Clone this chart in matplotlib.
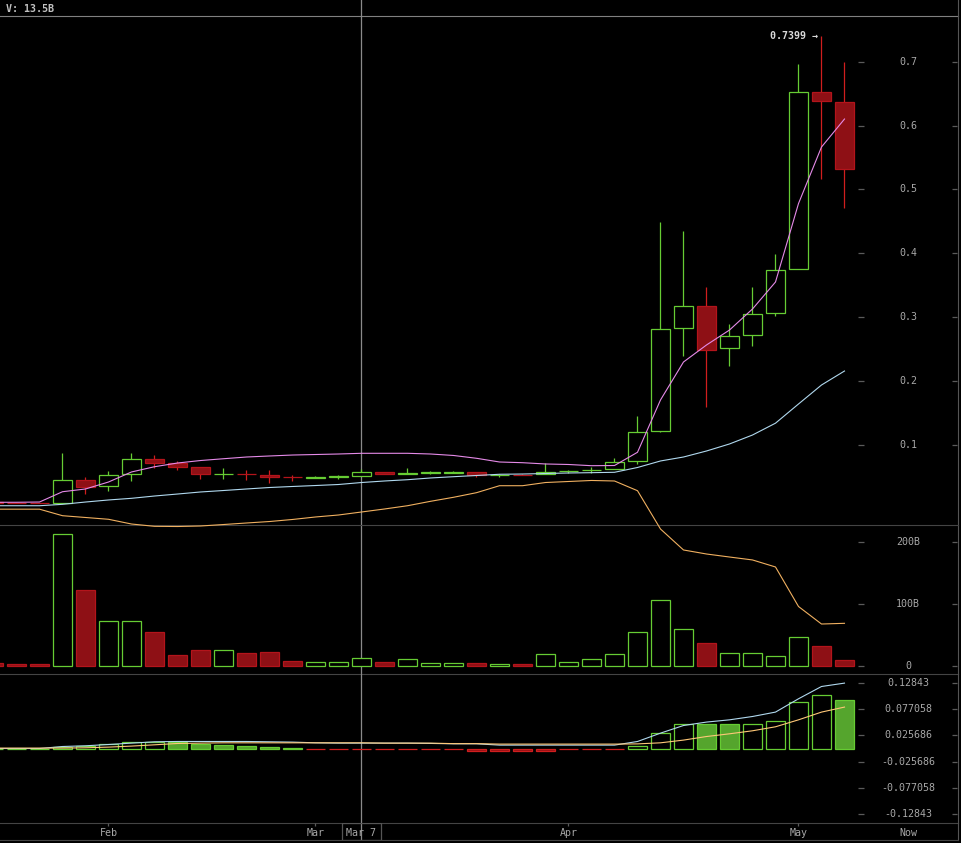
import numpy as np
import matplotlib.pyplot as plt
from matplotlib.patches import Rectangle

plt.rcParams['font.family'] = ['DejaVu Sans Mono', 'DejaVu Sans']

# 3-day candles, price in coin units
opens = [0.0112, 0.0100, 0.0100, 0.0094, 0.0452, 0.0358, 0.0546, 0.0780, 0.0722, 0.0655,
         0.0545, 0.0551, 0.0535, 0.0502, 0.0495, 0.0510, 0.0514, 0.0577, 0.0556, 0.0572,
         0.0572, 0.0577, 0.0528, 0.0540, 0.0545, 0.0590, 0.0606, 0.0624, 0.0749, 0.1223,
         0.2829, 0.3173, 0.2516, 0.2719, 0.3064, 0.3752, 0.6520, 0.6363]
closes = [0.0094, 0.0094, 0.0094, 0.0452, 0.0352, 0.0530, 0.0780, 0.0727, 0.0664, 0.0546,
          0.0550, 0.0546, 0.0508, 0.0497, 0.0500, 0.0515, 0.0577, 0.0555, 0.0561, 0.0577,
          0.0577, 0.0530, 0.0532, 0.0535, 0.0577, 0.0597, 0.0613, 0.0738, 0.1202, 0.2813,
          0.3173, 0.2494, 0.2704, 0.3048, 0.3736, 0.6520, 0.6379, 0.5325]
highs = [0.0115, 0.0100, 0.0100, 0.0879, 0.0503, 0.0597, 0.0879, 0.0847, 0.0749, 0.0655,
         0.0639, 0.0613, 0.0613, 0.0535, 0.0515, 0.0535, 0.0624, 0.0577, 0.0644, 0.0593,
         0.0600, 0.0577, 0.0545, 0.0545, 0.0718, 0.0618, 0.0664, 0.0796, 0.1457, 0.4491,
         0.4351, 0.3475, 0.2896, 0.3475, 0.3991, 0.6962, 0.7399, 0.6994]
lows = [0.0090, 0.0094, 0.0094, 0.0094, 0.0233, 0.0289, 0.0445, 0.0639, 0.0613, 0.0477,
        0.0477, 0.0457, 0.0414, 0.0445, 0.0495, 0.0477, 0.0514, 0.0545, 0.0555, 0.0555,
        0.0560, 0.0508, 0.0508, 0.0530, 0.0545, 0.0567, 0.0567, 0.0624, 0.0707, 0.1200,
        0.2400, 0.1603, 0.2244, 0.2557, 0.3026, 0.3752, 0.5169, 0.4710]

ma_short = [0.0108, 0.0108, 0.0112, 0.0273, 0.0316, 0.0425, 0.0582, 0.0664, 0.0722, 0.0761,
            0.0789, 0.0816, 0.0832, 0.0847, 0.0855, 0.0863, 0.0874, 0.0874, 0.0874, 0.0863,
            0.0840, 0.0796, 0.0738, 0.0727, 0.0707, 0.0699, 0.0680, 0.0683, 0.0890, 0.1708,
            0.2302, 0.2568, 0.2802, 0.3131, 0.3553, 0.4780, 0.5664, 0.6102]
ma_mid = [0.0054, 0.0054, 0.0054, 0.0076, 0.0112, 0.0144, 0.0170, 0.0206, 0.0237, 0.0269,
          0.0292, 0.0316, 0.0339, 0.0355, 0.0370, 0.0386, 0.0417, 0.0441, 0.0461, 0.0488,
          0.0508, 0.0527, 0.0546, 0.0550, 0.0558, 0.0566, 0.0571, 0.0577, 0.0652, 0.0754,
          0.0816, 0.0910, 0.1020, 0.1160, 0.1345, 0.1645, 0.1942, 0.2161]
band_low = [0.0000, 0.0000, 0.0000, -0.0102, -0.0130, -0.0158, -0.0232, -0.0268, -0.0271, -0.0263,
            -0.0240, -0.0216, -0.0193, -0.0161, -0.0122, -0.0091, -0.0044, 0.0003, 0.0054, 0.0123,
            0.0186, 0.0258, 0.0367, 0.0367, 0.0417, 0.0433, 0.0449, 0.0441, 0.0289, -0.0310,
            -0.0638, -0.0701, -0.0748, -0.0794, -0.0904, -0.1522, -0.1796, -0.1785]

volume_b = [4.8, 3.2, 3.2, 211.7, 121.7, 71.9, 71.9, 54.2, 17.2, 25.2,
            25.2, 20.9, 22.5, 7.5, 5.9, 5.9, 12.3, 6.4, 10.7, 4.3,
            4.3, 4.8, 2.7, 2.7, 18.8, 5.9, 10.7, 18.8, 54.2, 105.6,
            59.0, 36.5, 20.4, 20.4, 15.6, 46.1, 31.7, 9.2]

hist = [-0.0006, -0.0006, -0.0006, 0.0035, 0.0040, 0.0090, 0.0127, 0.0127, 0.0133, 0.0082,
        0.0062, 0.0043, 0.0029, 0.0012, -0.0006, -0.0006, -0.0006, -0.0006, -0.0006, -0.0006,
        -0.0006, -0.0045, -0.0045, -0.0045, -0.0045, -0.0008, -0.0008, -0.0008, 0.0040, 0.0300,
        0.0473, 0.0473, 0.0473, 0.0473, 0.0531, 0.0902, 0.1039, 0.0941]
hist_style = "fff" + "hhhhh" + "ffffff" + "r" * 14 + "hhh" + "ff" + "hhhh" + "f"
ind_fast = [0.0, 0.0, 0.0, 0.0039, 0.0053, 0.0078, 0.0105, 0.0131, 0.0137, 0.0137,
            0.0137, 0.0137, 0.0131, 0.0125, 0.0111, 0.0105, 0.0105, 0.0105, 0.0105, 0.0099,
            0.0092, 0.0092, 0.0066, 0.0066, 0.0066, 0.0066, 0.0066, 0.0066, 0.0137, 0.0300,
            0.0449, 0.0516, 0.0560, 0.0625, 0.0711, 0.0971, 0.1211, 0.1277]
ind_slow = [0.0008, 0.0008, 0.0008, 0.0008, 0.0014, 0.0027, 0.0047, 0.0072, 0.0098, 0.0105,
            0.0111, 0.0111, 0.0111, 0.0111, 0.0111, 0.0111, 0.0111, 0.0105, 0.0105, 0.0105,
            0.0095, 0.0095, 0.0086, 0.0086, 0.0086, 0.0086, 0.0086, 0.0086, 0.0090, 0.0111,
            0.0164, 0.0234, 0.0287, 0.0346, 0.0424, 0.0560, 0.0711, 0.0809]

price_ticks = [0.1, 0.2, 0.3, 0.4, 0.5, 0.6, 0.7]
vol_ticks = [0, 100, 200]
vol_labels = ['0', '100B', '200B']
ind_ticks = [-0.12843, -0.077058, -0.025686, 0.025686, 0.077058, 0.12843]
month_pos = [5, 14, 25, 35]
month_labels = ['Feb', 'Mar', 'Apr', 'May']
cross_pos = 16
cross_label = 'Mar 7'
peak_label = '0.7399 \u2192'
header = 'V: 13.5B'

GREEN = '#66cc33'
GREEN_FILL = '#55a52d'
RED_FILL = '#8e1015'
RED_EDGE = '#b3141b'
RED_WICK = '#d01e1e'
LINE = '#444444'
TXT = '#a8a8a8'

x = np.arange(len(opens))
W, H = 961, 843
fig = plt.figure(figsize=(W / 100, H / 100), dpi=100, facecolor='black')


def panel(top, bottom):
    ax = fig.add_axes([0, 1 - bottom / H, 958 / W, (bottom - top) / H])
    ax.set_facecolor('none')
    ax.set_xlim(0.2826, 41.935)
    for s in ax.spines.values():
        s.set_visible(False)
    ax.spines['bottom'].set_visible(True)
    ax.spines['bottom'].set_color(LINE)
    ax.spines['right'].set_visible(True)
    ax.spines['right'].set_color('#555555')
    ax.set_xticks([])
    ax.set_yticks([])
    return ax


ax_t = panel(0, 16)
ax_t.spines['bottom'].set_color('#808080')
ax_p = panel(16, 525)
ax_v = panel(525, 674)
ax_i = panel(674, 823)
ax_x = panel(823, 840)
ax_p.set_zorder(3)

ax_p.set_ylim(-0.02474, 0.77132)
ax_v.set_ylim(-12.86, 226.7)
ax_i.set_ylim(-0.1455, 0.1455)

ax_t.text(6 / 958, 0.45, header, transform=ax_t.transAxes, color='#c0c0c0',
          fontsize=7.2, fontweight='bold', va='center', ha='left')

# crosshair
for ax in (ax_t, ax_p, ax_v, ax_i, ax_x):
    ax.axvline(cross_pos, color='#8a8a8a', lw=0.9, zorder=0.5)

# candles
for i in x:
    up = closes[i] >= opens[i]
    wick = GREEN if up else RED_WICK
    ax_p.vlines(i, lows[i], highs[i], color=wick, lw=0.9, zorder=1)
    lo = min(opens[i], closes[i])
    h = max(abs(closes[i] - opens[i]), 1e-5)
    ax_p.add_patch(Rectangle((i - 0.4, lo), 0.8, h,
                             facecolor='black' if up else RED_FILL,
                             edgecolor=GREEN if up else RED_EDGE, lw=0.9, zorder=2))

ax_p.plot(x, ma_mid, color='#b0d8ee', lw=0.8, zorder=4)
ax_p.plot(x, ma_short, color='#e58ae8', lw=0.8, zorder=4)
ax_p.plot(x, band_low, color='#f0b060', lw=0.8, zorder=4, clip_on=False)
ax_p.text(36 - 0.15, 0.7399, peak_label, color='#d8d8d8', fontsize=7.2,
          ha='right', va='center', fontweight='bold')

# volume
ups = [c >= o for o, c in zip(opens, closes)]
ax_v.bar(x, volume_b, width=0.8,
         color=['black' if u else RED_FILL for u in ups],
         edgecolor=[GREEN if u else RED_EDGE for u in ups], lw=0.9, zorder=2)

# indicator
fc = {'h': 'black', 'f': GREEN_FILL, 'r': RED_FILL}
ec = {'h': GREEN, 'f': GREEN, 'r': RED_WICK}
ax_i.bar(x, hist, width=0.8, color=[fc[s] for s in hist_style],
         edgecolor=[ec[s] for s in hist_style], lw=0.9, zorder=2)
ax_i.plot(x, ind_fast, color='#b0d8ee', lw=0.8, zorder=3)
ax_i.plot(x, ind_slow, color='#ffc878', lw=0.8, zorder=3)


def right_axis(ax, ticks, labels):
    tr = ax.get_yaxis_transform()
    ax.hlines(ticks, 858 / 958, 864 / 958, transform=tr, color='#5a5a5a', lw=0.9)
    ax.hlines(ticks, 952 / 958, 957 / 958, transform=tr, color='#5a5a5a', lw=0.9)
    for t, lab in zip(ticks, labels):
        ax.text(908 / 958, t, lab, transform=tr, color=TXT, fontsize=7.2,
                ha='center', va='center')


right_axis(ax_p, price_ticks, [f'{t:g}' for t in price_ticks])
right_axis(ax_v, vol_ticks, vol_labels)
right_axis(ax_i, ind_ticks, [f'{t:g}' for t in ind_ticks])

# time axis
trx = ax_x.get_xaxis_transform()
ax_x.vlines(month_pos, 0.82, 1.0, transform=trx, color='#5a5a5a', lw=0.9)
for p, lab in zip(month_pos, month_labels):
    ax_x.text(p, 0.42, lab, transform=trx, color=TXT, fontsize=7.2, ha='center', va='center')
ax_x.text(908 / 958, 0.42, 'Now', transform=ax_x.transAxes, color=TXT, fontsize=7.2,
          ha='center', va='center')
ax_x.add_patch(Rectangle((cross_pos - 0.855, 0), 1.71, 1, transform=trx,
                         facecolor='none', edgecolor='#555555', lw=0.9))
ax_x.text(cross_pos, 0.42, cross_label, transform=trx, color=TXT, fontsize=7.2,
          ha='center', va='center')

fig.savefig('out.png', dpi=100, facecolor='black')
